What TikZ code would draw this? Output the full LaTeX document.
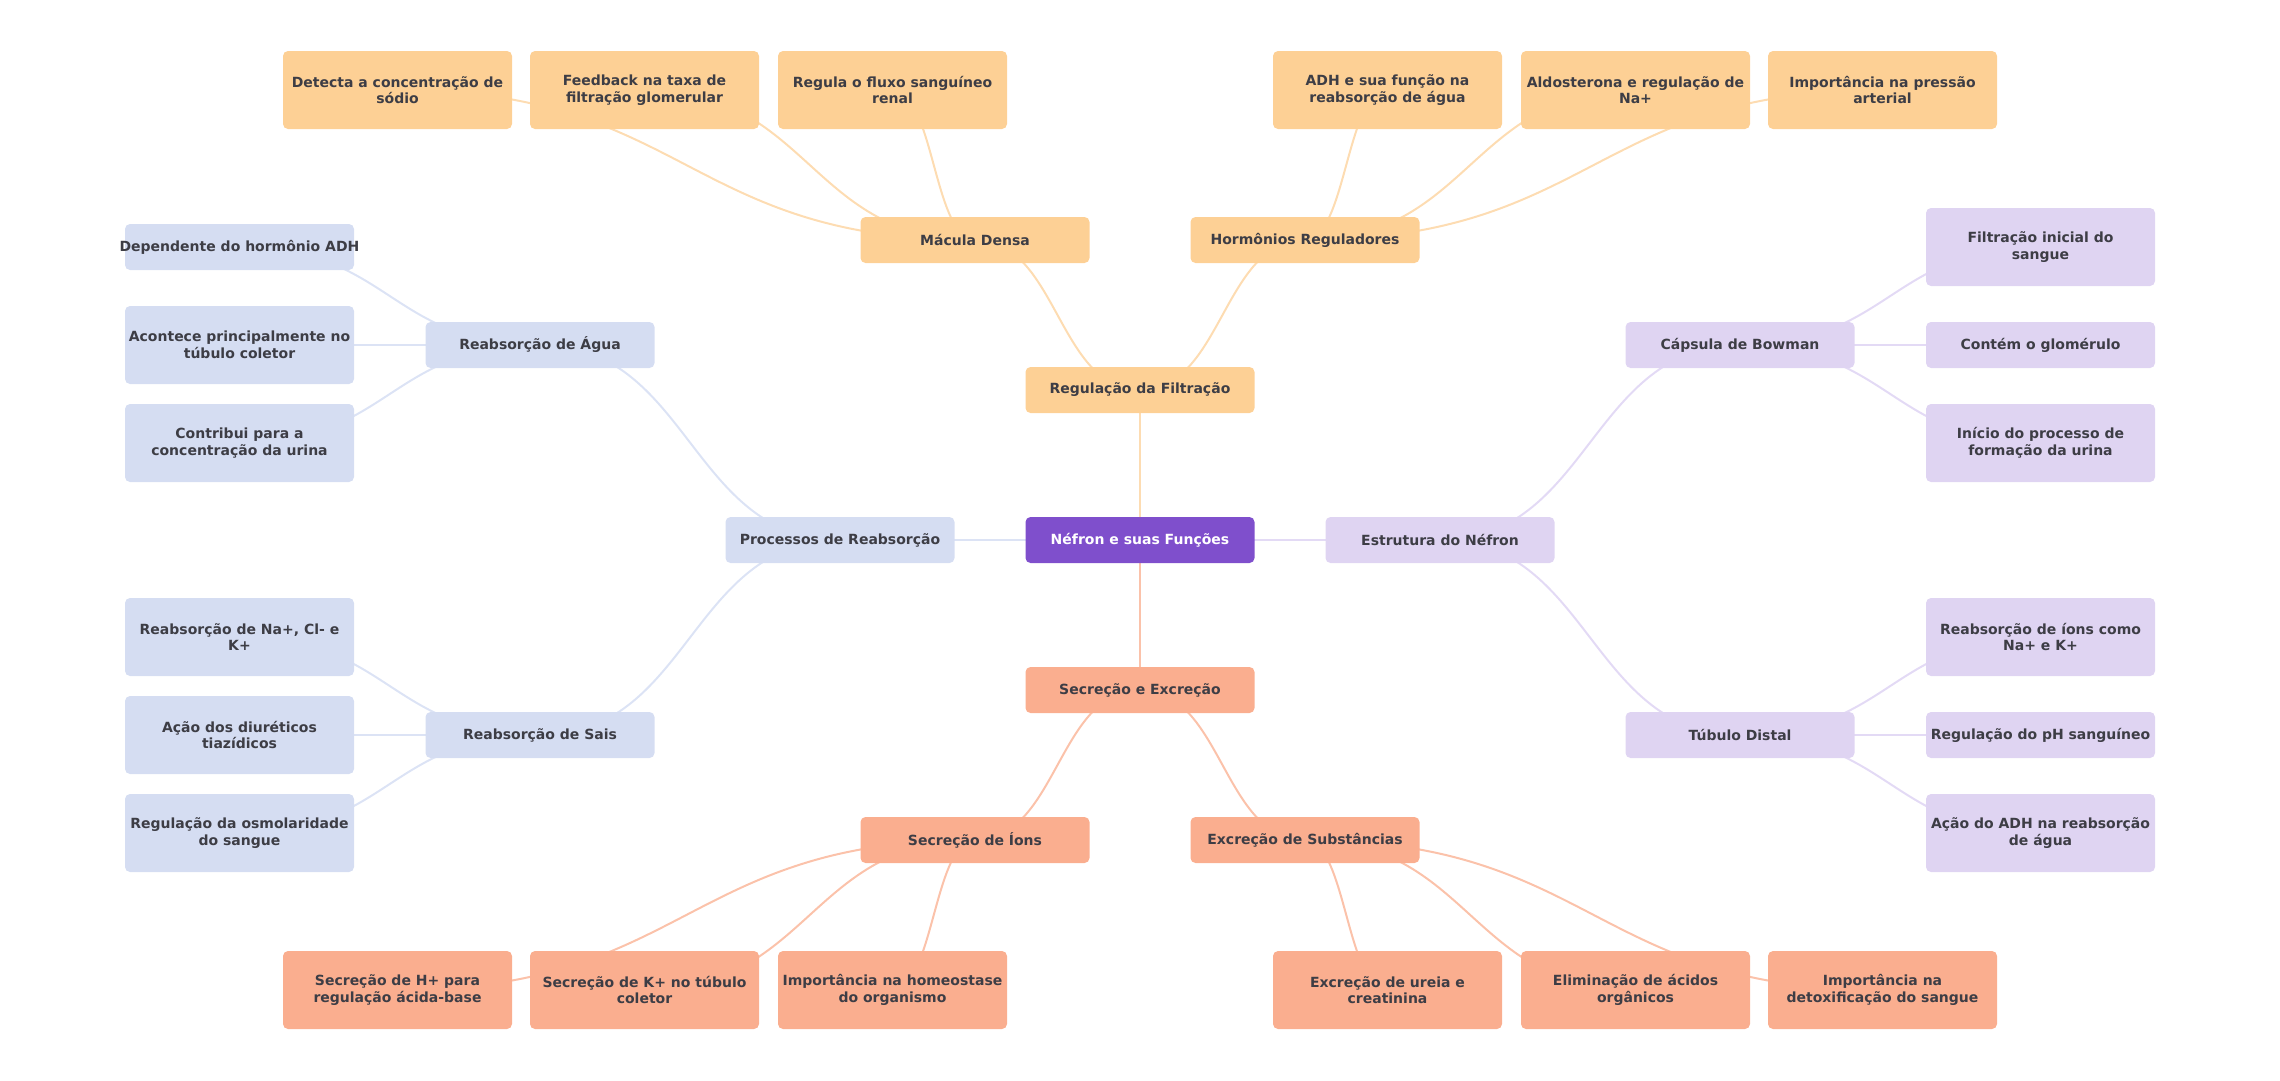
\documentclass[tikz,border=0pt]{standalone}
\usepackage{fontspec}
\setmainfont{DejaVu Sans}
\usepackage{tikz}
\usetikzlibrary{calc}
\usetikzlibrary{positioning}
\usetikzlibrary{backgrounds}
\definecolor{rootfill}{HTML}{7F4FCC}
\definecolor{orgfill}{HTML}{FDD095}
\definecolor{orgline}{HTML}{FDDCB2}
\definecolor{bluefill}{HTML}{D5DDF2}
\definecolor{blueline}{HTML}{DCE3F5}
\definecolor{lilfill}{HTML}{DFD4F2}
\definecolor{lilline}{HTML}{E3DAF5}
\definecolor{salfill}{HTML}{FAAE8F}
\definecolor{salline}{HTML}{FBC2AA}
\definecolor{txtgray}{HTML}{3D3D45}
\tikzstyle{topic} = [rectangle, rounded corners=5pt, minimum width=229pt, minimum height=46pt, inner sep=0pt, text=txtgray, align=center, font=\bfseries\fontsize{14}{16.5}\selectfont]
\tikzstyle{detail} = [topic, minimum height=78pt]
\tikzstyle{link} = [line width=2pt, to path={let \p1=(\tikztostart), \p2=(\tikztotarget) in .. controls ({0.5*\x1+0.5*\x2},\y1) and ({0.5*\x1+0.5*\x2},\y2) .. (\tikztotarget)}]

\begin{document}
\begin{tikzpicture}[x=1pt,y=-1pt,node distance=98pt]
	\useasboundingbox (0,0) rectangle (2280,1080);

		\node [topic, fill=rootfill, text=white] (A) at (1140,540) {Néfron e suas Funções};
		\node [topic, fill=orgfill, above of=A, yshift=52pt] (B) {Regulação da Filtração};
		\node [topic, fill=salfill, below of=A, yshift=-52pt] (C) {Secreção e Excreção};
		\node [topic, fill=bluefill, left of=A, xshift=-202pt] (D) {Processos de Reabsorção};
		\node [topic, fill=lilfill, right of=A, xshift=202pt] (E) {Estrutura do Néfron};
		
		% second level
		\node [topic, fill=orgfill] (F) at (975,240) {Mácula Densa};
		\node [topic, fill=orgfill] (G) at (1305,240) {Hormônios Reguladores};
		\node [topic, fill=bluefill] (H) at (540,345) {Reabsorção de Água};
		\node [topic, fill=bluefill] (I) at (540,735) {Reabsorção de Sais};
		\node [topic, fill=lilfill] (J) at (1740,345) {Cápsula de Bowman};
		\node [topic, fill=lilfill] (K) at (1740,735) {Túbulo Distal};
		\node [topic, fill=salfill] (L) at (975,840) {Secreção de Íons};
		\node [topic, fill=salfill] (M) at (1305,840) {Excreção de Substâncias};
		
		% leaves on top
		\node [detail, fill=orgfill] (F1) at (644.5,90) {Feedback na taxa de\\filtração glomerular};
		\node [detail, fill=orgfill, left of=F1, xshift=-149pt] (F2) {Detecta a concentração de\\sódio};
		\node [detail, fill=orgfill, right of=F1, xshift=150pt] (F3) {Regula o fluxo sanguíneo\\renal};
		\node [detail, fill=orgfill] (G1) at (1635.5,90) {Aldosterona e regulação de\\Na+};
		\node [detail, fill=orgfill, left of=G1, xshift=-150pt] (G2) {ADH e sua função na\\reabsorção de água};
		\node [detail, fill=orgfill, right of=G1, xshift=149pt] (G3) {Importância na pressão\\arterial};
		
		% leaves on the left
		\node [detail, fill=bluefill, left of=H, xshift=-202.5pt] (H1) {Acontece principalmente no\\túbulo coletor};
		\node [topic, fill=bluefill, above of=H1] (H2) {\makebox[229pt]{Dependente do hormônio ADH}};
		\node [detail, fill=bluefill, below of=H1] (H3) {Contribui para a\\concentração da urina};
		\node [detail, fill=bluefill, left of=I, xshift=-202.5pt] (I1) {Ação dos diuréticos\\tiazídicos};
		\node [detail, fill=bluefill, above of=I1] (I2) {Reabsorção de Na+, Cl- e\\K+};
		\node [detail, fill=bluefill, below of=I1] (I3) {Regulação da osmolaridade\\do sangue};
		
		% leaves on the right
		\node [topic, fill=lilfill, right of=J, xshift=202.5pt] (J1) {Contém o glomérulo};
		\node [detail, fill=lilfill, above of=J1] (J2) {Filtração inicial do\\sangue};
		\node [detail, fill=lilfill, below of=J1] (J3) {Início do processo de\\formação da urina};
		\node [topic, fill=lilfill, right of=K, xshift=202.5pt] (K1) {\makebox[229pt]{Regulação do pH sanguíneo}};
		\node [detail, fill=lilfill, above of=K1] (K2) {Reabsorção de íons como\\Na+ e K+};
		\node [detail, fill=lilfill, below of=K1] (K3) {Ação do ADH na reabsorção\\de água};
		
		% leaves at the bottom
		\node [detail, fill=salfill] (L1) at (644.5,990) {Secreção de K+ no túbulo\\coletor};
		\node [detail, fill=salfill, left of=L1, xshift=-149pt] (L2) {Secreção de H+ para\\regulação ácida-base};
		\node [detail, fill=salfill, right of=L1, xshift=150pt] (L3) {Importância na homeostase\\do organismo};
		\node [detail, fill=salfill] (M1) at (1635.5,990) {Eliminação de ácidos\\orgânicos};
		\node [detail, fill=salfill, left of=M1, xshift=-150pt] (M2) {Excreção de ureia e\\creatinina};
		\node [detail, fill=salfill, right of=M1, xshift=149pt] (M3) {Importância na\\detoxificação do sangue};
		
		% connections
		\begin{scope}[on background layer]
		\draw[link, orgline] (A.center) to (B.center);
		\draw[link, salline] (A.center) to (C.center);
		\draw[link, blueline] (A.center) to (D.center);
		\draw[link, lilline] (A.center) to (E.center);
		
		\draw[link, orgline] (B.center) to (F.center);
		\draw[link, orgline] (B.center) to (G.center);
		\draw[link, orgline] (F.center) to (F1.center);
		\draw[link, orgline] (F.center) to (F2.center);
		\draw[link, orgline] (F.center) to (F3.center);
		\draw[link, orgline] (G.center) to (G1.center);
		\draw[link, orgline] (G.center) to (G2.center);
		\draw[link, orgline] (G.center) to (G3.center);
		
		\draw[link, blueline] (D.center) to (H.center);
		\draw[link, blueline] (D.center) to (I.center);
		\draw[link, blueline] (H.center) to (H1.center);
		\draw[link, blueline] (H.center) to (H2.center);
		\draw[link, blueline] (H.center) to (H3.center);
		\draw[link, blueline] (I.center) to (I1.center);
		\draw[link, blueline] (I.center) to (I2.center);
		\draw[link, blueline] (I.center) to (I3.center);
		
		\draw[link, lilline] (E.center) to (J.center);
		\draw[link, lilline] (E.center) to (K.center);
		\draw[link, lilline] (J.center) to (J1.center);
		\draw[link, lilline] (J.center) to (J2.center);
		\draw[link, lilline] (J.center) to (J3.center);
		\draw[link, lilline] (K.center) to (K1.center);
		\draw[link, lilline] (K.center) to (K2.center);
		\draw[link, lilline] (K.center) to (K3.center);
		
		\draw[link, salline] (C.center) to (L.center);
		\draw[link, salline] (C.center) to (M.center);
		\draw[link, salline] (L.center) to (L1.center);
		\draw[link, salline] (L.center) to (L2.center);
		\draw[link, salline] (L.center) to (L3.center);
		\draw[link, salline] (M.center) to (M1.center);
		\draw[link, salline] (M.center) to (M2.center);
		\draw[link, salline] (M.center) to (M3.center);
		\end{scope}

	\end{tikzpicture}
\end{document}
